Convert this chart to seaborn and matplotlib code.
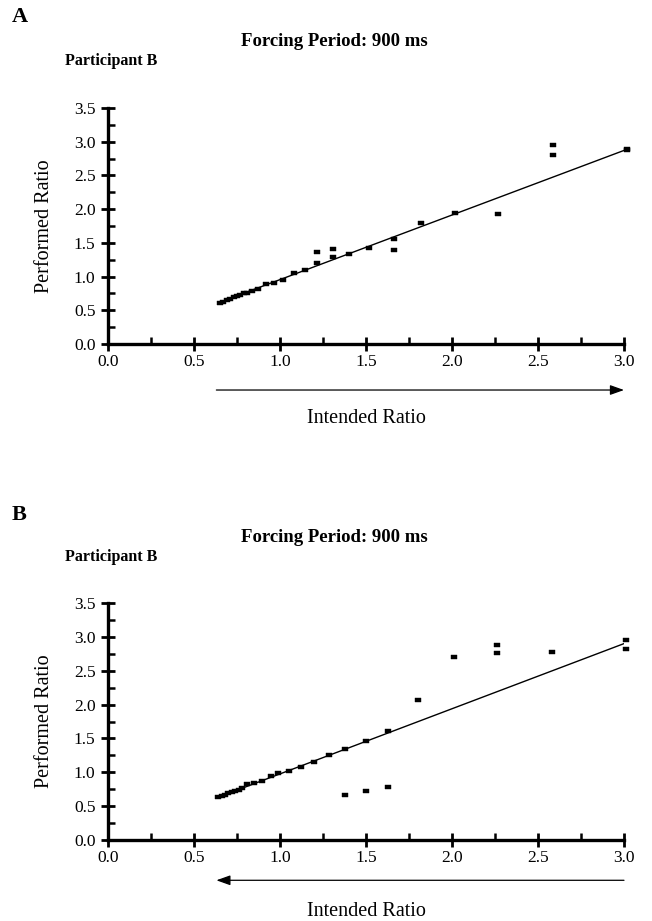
import numpy as np
import pandas as pd
import matplotlib
matplotlib.use("Agg")
import matplotlib.pyplot as plt
from matplotlib.ticker import MultipleLocator, FormatStrFormatter
import seaborn as sns

# ---------------- data ----------------
a_intended = [0.65, 0.67, 0.69, 0.71, 0.73, 0.75, 0.77, 0.79, 0.81, 0.84, 0.87,
              0.92, 0.965, 1.02, 1.08, 1.145, 1.215, 1.215, 1.31, 1.31, 1.40,
              1.52, 1.66, 1.66, 1.82, 2.02, 2.27, 2.59, 2.59, 3.02, 3.02]
a_performed = [0.61, 0.63, 0.65, 0.67, 0.69, 0.71, 0.73, 0.75, 0.76, 0.78, 0.81,
               0.89, 0.90, 0.95, 1.05, 1.10, 1.20, 1.36, 1.29, 1.41, 1.33,
               1.42, 1.56, 1.39, 1.79, 1.94, 1.93, 2.81, 2.95, 2.89, 2.87]
a_line_x = [0.64, 3.02]
a_line_y = [0.61, 2.89]

b_intended = [0.64, 0.66, 0.68, 0.70, 0.72, 0.74, 0.76, 0.78, 0.81, 0.85, 0.895,
              0.95, 0.99, 1.05, 1.12, 1.20, 1.285, 1.38, 1.38, 1.50, 1.50,
              1.63, 1.63, 1.80, 2.01, 2.26, 2.26, 2.58, 3.01, 3.01]
b_performed = [0.64, 0.65, 0.67, 0.69, 0.71, 0.72, 0.74, 0.77, 0.83, 0.84, 0.87,
               0.95, 0.99, 1.02, 1.08, 1.15, 1.26, 1.34, 0.67, 1.46, 0.72,
               1.61, 0.78, 2.07, 2.70, 2.88, 2.76, 2.78, 2.95, 2.82]
b_line_x = [0.64, 3.01]
b_line_y = [0.63, 2.91]

panel_letters = ["A", "B"]
title_text = "Forcing Period: 900 ms"
participant_text = "Participant B"
x_label = "Intended Ratio"
y_label = "Performed Ratio"

# ---------------- style ----------------
sns.set_theme(style="white")
plt.rcParams["font.family"] = ["Liberation Serif", "DejaVu Serif"]

W, H = 652, 921
fig = plt.figure(figsize=(W / 100, H / 100), dpi=100)

def fx(px):
    return px / W

def fy(py):
    return 1 - py / H

rect_marker = [(-1, -0.6), (1, -0.6), (1, 0.6), (-1, 0.6), (-1, -0.6)]

panels = [
    dict(top=108, bottom=344, xs=a_intended, ys=a_performed, lx=a_line_x, ly=a_line_y,
         arrow=(0.63, 3.0), arrow_y=-0.195, xlabelpad=28,
         letter_y=17, title_y=42, part_y=61),
    dict(top=603, bottom=840, xs=b_intended, ys=b_performed, lx=b_line_x, ly=b_line_y,
         arrow=(3.0, 0.63), arrow_y=-0.17, xlabelpad=26,
         letter_y=515, title_y=537, part_y=557),
]

for i, p in enumerate(panels):
    left, right = 108, 624
    ax = fig.add_axes([fx(left), fy(p["bottom"]), (right - left) / W,
                       (p["bottom"] - p["top"]) / H])
    df = pd.DataFrame({"Intended": p["xs"], "Performed": p["ys"]})
    sns.lineplot(x=p["lx"], y=p["ly"], ax=ax, color="black", linewidth=1.0)
    sns.scatterplot(data=df, x="Intended", y="Performed", ax=ax, marker=rect_marker,
                    s=22, color="black", edgecolor="black", linewidth=0.3,
                    clip_on=False, zorder=5)
    ax.set_xlim(0, 3.0)
    ax.set_ylim(0, 3.5)
    ax.xaxis.set_major_locator(MultipleLocator(0.5))
    ax.xaxis.set_minor_locator(MultipleLocator(0.25))
    ax.yaxis.set_major_locator(MultipleLocator(0.5))
    ax.yaxis.set_minor_locator(MultipleLocator(0.25))
    ax.xaxis.set_major_formatter(FormatStrFormatter("%.1f"))
    ax.yaxis.set_major_formatter(FormatStrFormatter("%.1f"))
    for s in ["top", "right"]:
        ax.spines[s].set_visible(False)
    for s in ["left", "bottom"]:
        ax.spines[s].set_linewidth(2.4)
        ax.spines[s].set_color("black")
    ax.tick_params(which="major", direction="inout", length=10, width=2.0,
                   color="black", labelsize=12.5, labelcolor="black")
    ax.tick_params(axis="x", which="major", pad=2)
    ax.tick_params(axis="y", which="major", pad=4)
    ax.tick_params(which="minor", direction="in", length=5, width=1.8, color="black")
    ax.tick_params(bottom=True, left=True, which="both")
    ax.set_xlabel(x_label, fontsize=14.5, labelpad=p["xlabelpad"], color="black")
    ax.set_ylabel(y_label, fontsize=14.5, labelpad=14, color="black")
    ax.grid(False)

    a0, a1 = p["arrow"]
    ax.annotate("", xy=(a1, p["arrow_y"]), xytext=(a0, p["arrow_y"]),
                xycoords=ax.get_xaxis_transform(),
                textcoords=ax.get_xaxis_transform(),
                arrowprops=dict(arrowstyle="-|>,head_length=0.7,head_width=0.25",
                                color="black", lw=0.9, shrinkA=0, shrinkB=0),
                annotation_clip=False)

    fig.text(fx(12), fy(p["letter_y"]), panel_letters[i], fontsize=16,
             fontweight="bold", ha="left", va="center", color="black")
    fig.text(fx(334), fy(p["title_y"]), title_text, fontsize=13.5,
             fontweight="bold", ha="center", va="center", color="black")
    fig.text(fx(65), fy(p["part_y"]), participant_text, fontsize=11.5,
             fontweight="bold", ha="left", va="center", color="black")

fig.savefig("out.png", dpi=100, facecolor="white")
